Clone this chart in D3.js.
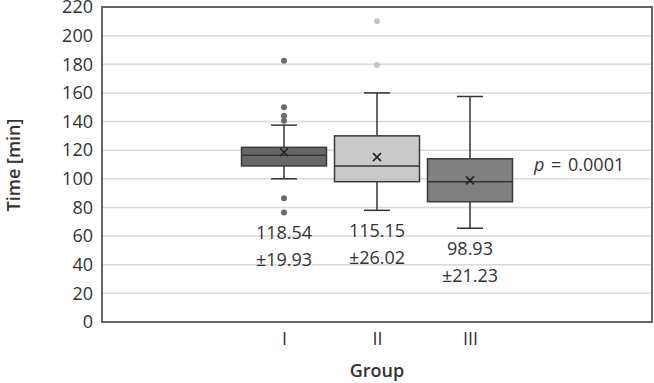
<!DOCTYPE html>
<html>
<head>
<meta charset="utf-8">
<script src="https://cdn.jsdelivr.net/npm/d3@7"></script>
<style>
  body { margin: 0; background: #fff; }
  text { font-family: "Open Sans", "Noto Sans", sans-serif; fill: #333; }
</style>
</head>
<body>
<div id="chart"></div>
<script>
const groups = ["I", "II", "III"]
const q1 = [109, 98, 84]
const medians = [116.5, 109, 98]
const q3 = [122, 130, 114]
const whiskerLow = [100, 78, 65.5]
const whiskerHigh = [137.5, 160, 157.5]
const means = [118.54, 115.15, 98.93]
const sds = [19.93, 26.02, 21.23]
const outliers = [[182.5, 150, 144, 140.5, 86.5, 76.5], [210, 179.5], []]
const fills = ["#676767", "#c9c9c9", "#808080"]
const outlierColors = ["#6a6a6a", "#c4c4c4", "#808080"]
const yTicks = [0, 20, 40, 60, 80, 100, 120, 140, 160, 180, 200, 220]
const pLabel = "0.0001"

const width = 654, height = 383
const margin = { top: 7, right: 2, bottom: 61, left: 102 }

const svg = d3.select("#chart").append("svg")
    .attr("width", width)
    .attr("height", height)

const y = d3.scaleLinear().domain([0, 220]).range([height - margin.bottom, margin.top])
const x = d3.scalePoint().domain(groups).range([284, 470])
const boxW = 85

// gridlines
svg.append("g")
    .selectAll("line")
    .data(yTicks.slice(1))
    .join("line")
    .attr("x1", margin.left)
    .attr("x2", width - margin.right)
    .attr("y1", d => y(d))
    .attr("y2", d => y(d))
    .attr("stroke", "#d9d9d9")
    .attr("stroke-width", 1.5)

// y axis labels
const yAxis = svg.append("g")
    .attr("transform", "translate(" + margin.left + ",0)")
    .call(d3.axisLeft(y).tickValues(yTicks).tickSize(0).tickPadding(9))
yAxis.select(".domain").remove()
yAxis.selectAll("text")
    .style("font-size", "18px")
    .style("font-family", "'Open Sans', sans-serif")
    .attr("fill", "#333")

// x axis labels
const xAxis = svg.append("g")
    .attr("transform", "translate(0," + (height - margin.bottom) + ")")
    .call(d3.axisBottom(x).tickSize(0).tickPadding(10))
xAxis.select(".domain").remove()
xAxis.selectAll("text")
    .style("font-size", "18px")
    .style("font-family", "'Open Sans', sans-serif")
    .attr("fill", "#333")

// frame
svg.append("rect")
    .attr("x", margin.left)
    .attr("y", margin.top)
    .attr("width", width - margin.right - margin.left)
    .attr("height", height - margin.bottom - margin.top)
    .attr("fill", "none")
    .attr("stroke", "#555")
    .attr("stroke-width", 1.8)

// boxes
const box = svg.append("g")
    .selectAll("g")
    .data(groups)
    .join("g")
    .attr("transform", d => "translate(" + x(d) + ",0)")

box.append("line")
    .attr("y1", (d, i) => y(whiskerHigh[i]))
    .attr("y2", (d, i) => y(q3[i]))
    .attr("stroke", "#333").attr("stroke-width", 1.5)
box.append("line")
    .attr("y1", (d, i) => y(whiskerLow[i]))
    .attr("y2", (d, i) => y(q1[i]))
    .attr("stroke", "#333").attr("stroke-width", 1.5)
box.append("line")
    .attr("x1", -13).attr("x2", 13)
    .attr("y1", (d, i) => y(whiskerHigh[i]))
    .attr("y2", (d, i) => y(whiskerHigh[i]))
    .attr("stroke", "#333").attr("stroke-width", 1.5)
box.append("line")
    .attr("x1", -13).attr("x2", 13)
    .attr("y1", (d, i) => y(whiskerLow[i]))
    .attr("y2", (d, i) => y(whiskerLow[i]))
    .attr("stroke", "#333").attr("stroke-width", 1.5)

box.append("rect")
    .attr("x", -boxW / 2)
    .attr("width", boxW)
    .attr("y", (d, i) => y(q3[i]))
    .attr("height", (d, i) => y(q1[i]) - y(q3[i]))
    .attr("fill", (d, i) => fills[i])
    .attr("stroke", "#3a3a3a")
    .attr("stroke-width", 1.5)
box.append("line")
    .attr("x1", -boxW / 2).attr("x2", boxW / 2)
    .attr("y1", (d, i) => y(medians[i]))
    .attr("y2", (d, i) => y(medians[i]))
    .attr("stroke", "#333").attr("stroke-width", 1.5)

// mean marker
box.append("path")
    .attr("transform", (d, i) => "translate(0," + y(means[i]) + ")")
    .attr("d", "M-4,-4L4,4M-4,4L4,-4")
    .attr("stroke", "#222")
    .attr("stroke-width", 1.6)

// outliers
box.each(function (d, i) {
    d3.select(this).selectAll("circle")
        .data(outliers[i])
        .join("circle")
        .attr("cy", v => y(v))
        .attr("r", 3)
        .attr("fill", outlierColors[i])
})

// mean ± sd labels, placed under the lowest mark of each group
const lowest = groups.map((d, i) => d3.min([whiskerLow[i], ...outliers[i]]))
box.append("text")
    .attr("y", (d, i) => y(lowest[i]) + 27)
    .attr("text-anchor", "middle")
    .style("font-size", "18px")
    .text((d, i) => means[i].toFixed(2))
box.append("text")
    .attr("y", (d, i) => y(lowest[i]) + 54)
    .attr("text-anchor", "middle")
    .style("font-size", "18px")
    .text((d, i) => "±" + sds[i].toFixed(2))

// p value
const p = svg.append("text")
    .attr("x", 534)
    .attr("y", 171)
    .style("font-size", "18px")
    .style("word-spacing", "2px")
p.append("tspan").style("font-style", "italic").text("p")
p.append("tspan").text(" = " + pLabel)

// axis titles
svg.append("text")
    .attr("x", (margin.left + width - margin.right) / 2)
    .attr("y", 377)
    .attr("text-anchor", "middle")
    .style("font-size", "18px")
    .style("font-weight", "600")
    .text("Group")
svg.append("text")
    .attr("transform", "translate(20,165) rotate(-90)")
    .attr("text-anchor", "middle")
    .style("font-size", "18px")
    .style("font-weight", "600")
    .text("Time [min]")
</script>
</body>
</html>
